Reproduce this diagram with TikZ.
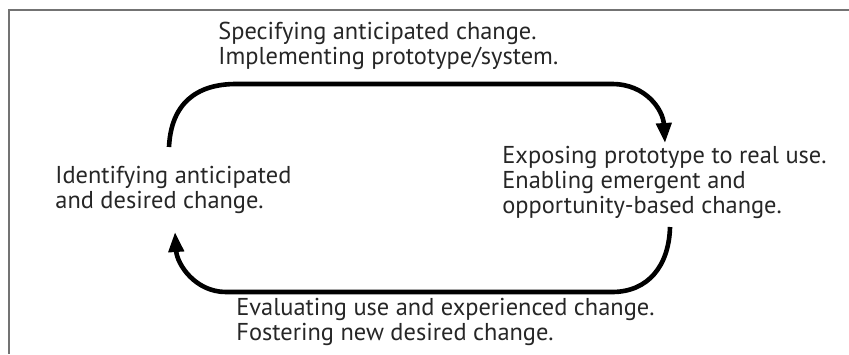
\documentclass[tikz,border=0pt]{standalone}
\usepackage{fontspec}
\setmainfont{PT Sans}
\usetikzlibrary{arrows.meta}

\begin{document}
\begin{tikzpicture}[
  x=0.5pt, y=-0.5pt,
  font=\fontsize{12.2}{12.5}\selectfont,
  phase/.style={align=left, anchor=west, inner sep=0pt, text=black!85},
  cycle/.style={line width=2.3pt, -{Triangle[length=10pt,width=7.5pt]}},
  frame/.style={line width=1pt, black!55}
]
\useasboundingbox (0,0) rectangle (849,354);
% Frame
\draw[frame] (849,10) -- (9,10) -- (9,354);
% Phases
\node[phase] (spec) at (218,46) {Specifying anticipated change.\\Implementing prototype/system.};
\node[phase] (expose) at (502,182) {Exposing prototype to real use.\\Enabling emergent and\\opportunity-based change.};
\node[phase] (eval) at (236,322) {Evaluating use and experienced change.\\Fostering new desired change.};
\node[phase] (ident) at (55,190) {Identifying anticipated\\and desired change.};
% Arc ends
\coordinate (topstart) at (169,147);
\coordinate (topend) at (665,143);
\coordinate (botstart) at (670,227);
\coordinate (botend) at (175,232);
% Cycle
\draw[cycle] (topstart) .. controls (171,104) and (196,84) .. (236,84) -- (612,84) .. controls (646,84) and (663,110) .. (topend);
\draw[cycle] (botstart) .. controls (669,266) and (648,292) .. (612,292) -- (226,292) .. controls (195,292) and (177,264) .. (botend);
\end{tikzpicture}
\end{document}
